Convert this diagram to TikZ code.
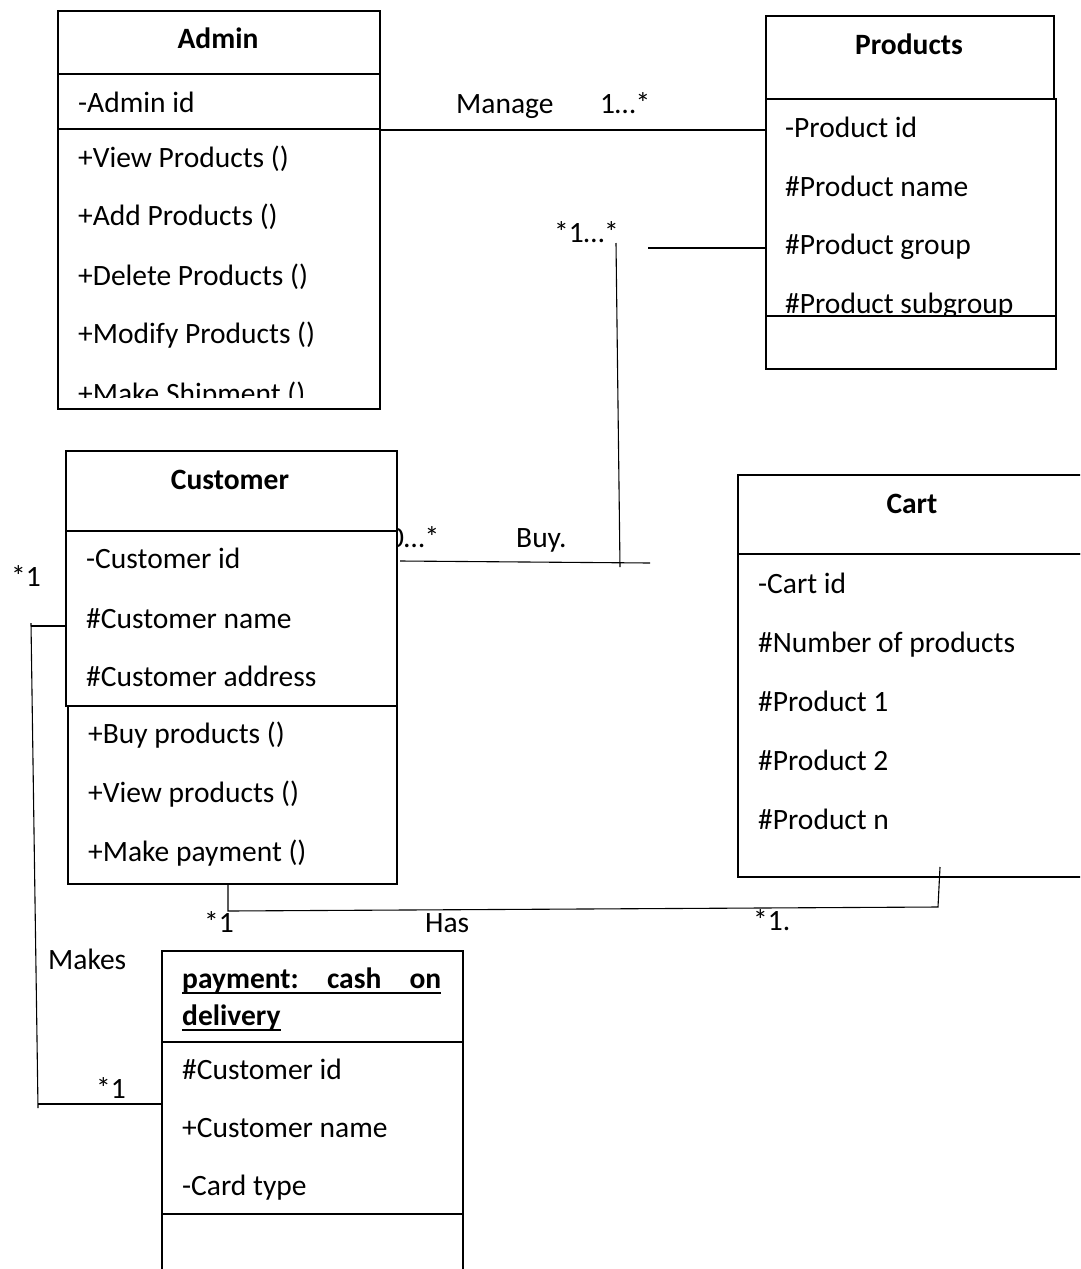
\documentclass[tikz,border=0pt]{standalone}
\usepackage{fontspec}
\setmainfont{Carlito}
\begin{document}
\begin{tikzpicture}[x=1pt,y=-1pt,
  font=\fontsize{29.5}{35}\selectfont,
  box/.style={draw, line width=2pt, fill=white, inner sep=0pt, anchor=north west},
  txt/.style={anchor=base west, inner sep=0pt},
  ttl/.style={anchor=base, inner sep=0pt, font=\fontsize{29.5}{35}\selectfont\bfseries},
  conn/.style={line width=1.1pt}]
\clip (0,0) rectangle (1080,1269);
\fill[white] (0,0) rectangle (1080,1269);

% label partly hidden by the Customer box
\node[txt] (lzero) at (389,547) {0…*};

% ---------- Admin ----------
\node[box, minimum width=322, minimum height=63] (adminhead) at (57,10) {};
\node[box, minimum width=322, minimum height=55] (adminattr) at (57,73) {};
\node[box, minimum width=322, minimum height=280] (adminops) at (57,128) {};
\node[ttl] (admint) at (218,48) {Admin};
\node[txt] (a1) at (78,112) {-Admin id};
\node[txt] (a2) at (78,167) {+View Products ()};
\node[txt] (a3) at (78,225) {+Add Products ()};
\node[txt] (a4) at (78,285) {+Delete Products ()};
\node[txt] (a5) at (78,343) {+Modify Products ()};
\begin{scope}
\clip (57,128) rectangle (379,397);
\node[txt] (a6) at (78,403) {+Make Shipment ()};
\end{scope}

% ---------- Products ----------
\node[box, minimum width=288, minimum height=83] (prodhead) at (765,15) {};
\node[box, minimum width=290, minimum height=217] (prodattr) at (765,98) {};
\node[ttl] (prodt) at (909,54) {Products};
\node[txt] (p1) at (785,137) {-Product id};
\node[txt] (p2) at (785,196) {\#Product name};
\node[txt] (p3) at (785,254) {\#Product group};
\node[txt] (p4) at (785,313) {\#Product subgroup};
\node[box, minimum width=290, minimum height=53] (prodops) at (765,315) {};

% ---------- Customer ----------
\node[box, minimum width=331, minimum height=80] (custhead) at (65,450) {};
\node[box, minimum width=331, minimum height=175] (custattr) at (65,530) {};
\node[box, minimum width=329, minimum height=178] (custops) at (67,705) {};
\node[ttl] (custt) at (230,489) {Customer};
\node[txt] (c1) at (86,568) {-Customer id};
\node[txt] (c2) at (86,628) {\#Customer name};
\node[txt] (c3) at (86,686) {\#Customer address};
\node[txt] (c4) at (88,743) {+Buy products ()};
\node[txt] (c5) at (88,802) {+View products ()};
\node[txt] (c6) at (88,861) {+Make payment ()};

% ---------- Cart ----------
\node[box, minimum width=360, minimum height=79] (carthead) at (737,474) {};
\node[box, minimum width=360, minimum height=323] (cartattr) at (737,553) {};
\node[ttl] (cartt) at (912,513) {Cart};
\node[txt] (k1) at (758,593) {-Cart id};
\node[txt] (k2) at (758,652) {\#Number of products};
\node[txt] (k3) at (758,711) {\#Product 1};
\node[txt] (k4) at (758,770) {\#Product 2};
\node[txt] (k5) at (758,829) {\#Product n};

% ---------- Payment ----------
\node[box, minimum width=301, minimum height=91] (payhead) at (161,950) {};
\node[box, minimum width=301, minimum height=172] (payattr) at (161,1041) {};
\node[box, minimum width=301, minimum height=80] (payops) at (161,1213) {};
\node[txt, font=\fontsize{29.5}{35}\selectfont\bfseries] (pt1) at (182,988) {\makebox[259pt][l]{payment:\hfill cash\hfill on}};
\node[txt, font=\fontsize{29.5}{35}\selectfont\bfseries] (pt2) at (182,1025) {delivery};
\draw[line width=1.4pt] ([yshift=-5pt]pt1.base west) -- ([yshift=-5pt]pt1.base east);
\draw[line width=1.4pt] ([yshift=-5pt]pt2.base west) -- ([yshift=-5pt]pt2.base east);
\node[txt] (y1) at (182,1079) {\#Customer id};
\node[txt] (y2) at (182,1137) {+Customer name};
\node[txt] (y3) at (182,1195) {-Card type};

% ---------- connectors ----------
% Manage
\draw[conn] (adminattr.south east) -- (adminattr.south east -| prodattr.west);
\node[txt] (lmanage) at (456,113) {Manage};
\node[txt] (lmanm) at (600,113) {1…*};

% Buy
\coordinate (b1) at (648,248);
\coordinate (b2) at (616,243);
\coordinate (b3) at (620,567);
\coordinate (b4) at (400,561);
\coordinate (b5) at (650,563);
\draw[conn] (b1) -- (b1 -| prodattr.west);
\draw[conn] (b2) -- (b3);
\draw[conn] (b4) -- (b5);
\node[txt] (lbuym) at (554,242) {*1…*};
\node[txt] (lbuy) at (516,547) {Buy.};

% Makes
\coordinate (m1) at (31,626);
\coordinate (m2) at (38,1108);
\coordinate (m3) at (38,1104);
\draw[conn] (custattr.west |- m1) -- (m1);
\draw[conn] (31,623) -- (m2);
\draw[conn] (m3) -- (m3 -| payattr.west);
\node[txt] (lcm) at (11,586) {*1};
\node[txt] (lmakes) at (48,969) {Makes};
\node[txt] (lpm) at (96,1098) {*1};

% Has
\coordinate (h1) at (228,911);
\coordinate (h2) at (938,907);
\coordinate (h3) at (940,867);
\draw[conn] (custops.south -| h1) -- (h1) -- (h2) -- (h3);
\node[txt] (lch) at (204,932) {*1};
\node[txt] (lhas) at (425,932) {Has};
\node[txt] (lkh) at (753,930) {*1.};
\end{tikzpicture}
\end{document}
